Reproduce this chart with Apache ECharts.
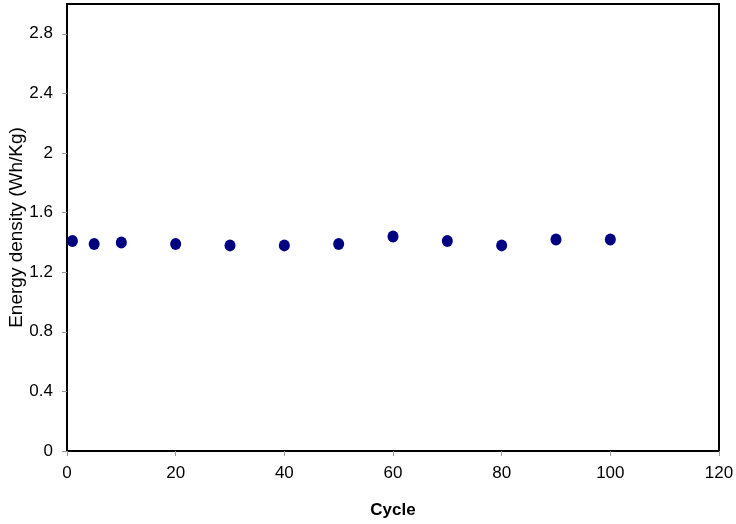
<!DOCTYPE html>
<html><head><meta charset="utf-8">
<script src="https://cdn.jsdelivr.net/npm/echarts@6/dist/echarts.min.js"></script>
<style>html,body{margin:0;padding:0;background:#fff}#c{width:736px;height:524px}</style>
</head><body><div id="c"></div>
<script>
const cycles = [1, 5, 10, 20, 30, 40, 50, 60, 70, 80, 90, 100];
const energyDensity = [1.41, 1.39, 1.40, 1.39, 1.38, 1.38, 1.39, 1.44, 1.41, 1.38, 1.42, 1.42];
const xTicks = [0, 20, 40, 60, 80, 100, 120];
const yTicks = [0, 0.4, 0.8, 1.2, 1.6, 2.0, 2.4, 2.8];

const chart = echarts.init(document.getElementById('c'));
const font = 'Liberation Sans, Arial, sans-serif';
chart.setOption({
  animation: false,
  grid: { left: 67, right: 17, top: 4, bottom: 73, show: true, borderColor: '#000', borderWidth: 2, backgroundColor: '#fff',
          containLabel: false, outerBoundsMode: 'none' },
  xAxis: {
    type: 'value', min: 0, max: 120, interval: 20,
    name: 'Cycle', nameLocation: 'middle', nameGap: 51, nameMoveOverlap: false,
    nameTextStyle: { fontFamily: font, fontSize: 17, fontWeight: 'bold', color: '#000' },
    axisLine: { show: true, lineStyle: { color: '#000', width: 2 } },
    axisTick: { show: true, inside: false, length: 5, lineStyle: { color: '#999' } },
    axisLabel: { fontFamily: font, fontSize: 17, color: '#000', margin: 14,
      formatter: v => xTicks.includes(v) ? String(v) : '' },
    splitLine: { show: false }
  },
  yAxis: {
    type: 'value', min: 0, max: 3.0, interval: 0.4,
    name: 'Energy density (Wh/Kg)', nameLocation: 'middle', nameGap: 41, nameMoveOverlap: false,
    nameTextStyle: { fontFamily: font, fontSize: 19, color: '#000' },
    axisLine: { show: true, lineStyle: { color: '#000', width: 2 } },
    axisTick: { show: true, inside: false, length: 5, lineStyle: { color: '#999' } },
    axisLabel: { fontFamily: font, fontSize: 17, color: '#000', margin: 14, showMaxLabel: false,
      formatter: v => { const t = yTicks.find(y => Math.abs(y - v) < 1e-6); return t === undefined ? '' : String(Math.round(t*10)/10); } },
    splitLine: { show: false }
  },
  series: [{
    type: 'scatter',
    data: cycles.map((c, i) => [c, energyDensity[i]]),
    symbol: 'circle', symbolSize: [11, 12],
    itemStyle: { color: '#000080', opacity: 1 }
  }]
});
</script></body></html>
